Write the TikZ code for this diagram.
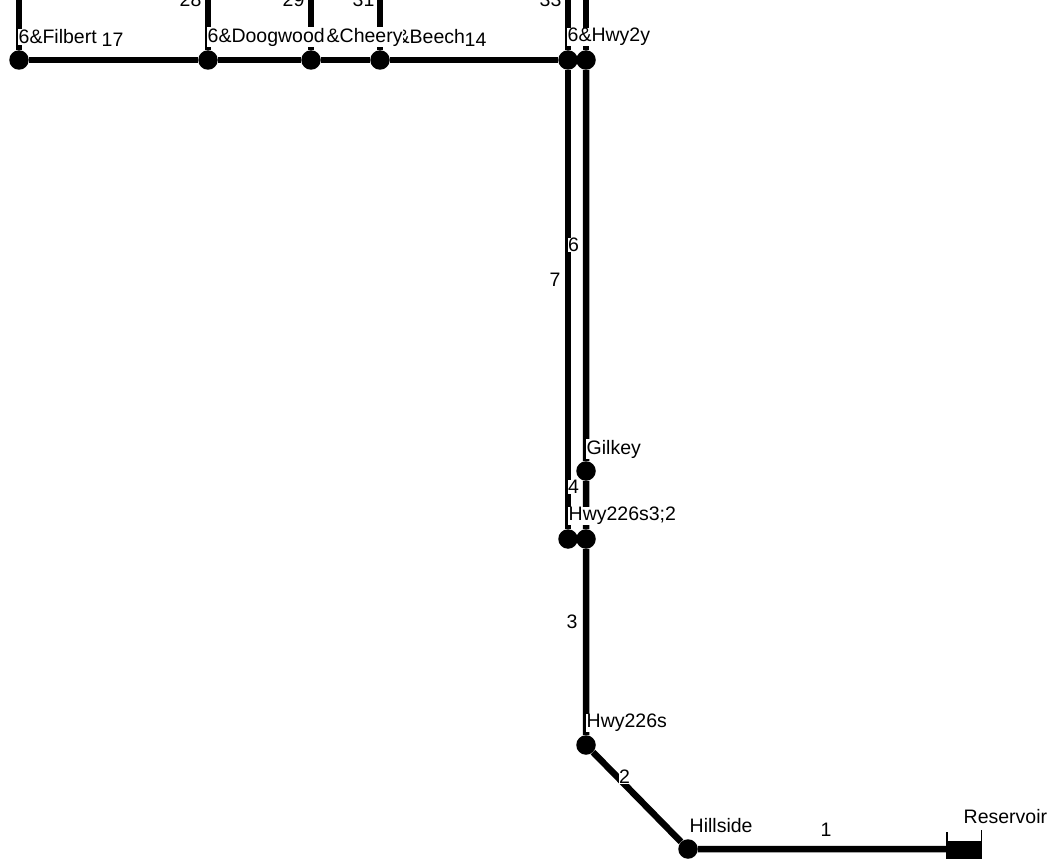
\documentclass[tikz,border=0pt]{standalone}
\usepackage{fontspec}
\setmainfont{Liberation Sans}
\tikzset{
  x=1pt,y=-1pt,
  junction/.style={circle,fill=black,draw=none,inner sep=0pt,minimum size=19.5pt},
  pipe/.style={line width=6.5pt,black},
  lbl/.style={font=\fontsize{19.5}{21}\selectfont,inner sep=0.5pt,anchor=west,text=black},
  hlbl/.style={lbl,fill=white},
}
\begin{document}
\begin{tikzpicture}
\useasboundingbox (0,0) rectangle (1061,864);
\clip (0,0) rectangle (1061,864);
\node[junction] (filbert) at (19,60) {};
\node[junction] (doogwood) at (208,60) {};
\node[junction] (cheery) at (311,60) {};
\node[junction] (beech) at (380,60) {};
\node[junction] (hwyA) at (568,60) {};
\node[junction] (hwyB) at (586,60) {};
\node[junction] (gilkey) at (586,471) {};
\node[junction] (sA) at (568,539) {};
\node[junction] (sB) at (586,539) {};
\node[junction] (hwys) at (586,745) {};
\node[junction] (hillside) at (688,849) {};
\coordinate (res) at (963,849);
\coordinate (tf) at (19,0);
\coordinate (td) at (208,0);
\coordinate (tc) at (311,0);
\coordinate (tb) at (380,0);
\coordinate (ta) at (568,0);
\coordinate (tB) at (586,0);
\draw[pipe] (filbert) -- (doogwood) -- (cheery) -- (beech) -- (hwyA);
\draw[pipe] (tf) -- (filbert);
\draw[pipe] (td) -- (doogwood);
\draw[pipe] (tc) -- (cheery);
\draw[pipe] (tb) -- (beech);
\draw[pipe] (ta) -- (hwyA);
\draw[pipe] (tB) -- (hwyB);
\draw[pipe] (hwyA) -- (sA);
\draw[pipe] (hwyB) -- (gilkey) -- (sB) -- (hwys) -- (hillside) -- (res);
\fill[black] (946,841) rectangle (982,859);
\draw[line width=1.2pt] (947,832) -- (947,845);
\draw[line width=1.2pt] (981.5,830) -- (981.5,845);
\node[hlbl] (l1) at (18,37) {6\&Filbert};
\node[hlbl] (l4) at (396,37) {\&Beech};
\node[hlbl] (l3) at (326,37) {\&Cheery};
\node[hlbl] (l2) at (207,37) {6\&Doogwood};
\node[hlbl] (l5) at (567,37) {6\&Hwy2y};
\node[lbl] (n17) at (101,40) {17};
\node[lbl] (n14) at (464,40) {14};
\node[lbl] (n28) at (179,0) {28};
\node[lbl] (n29) at (282,0) {29};
\node[lbl] (n31) at (352,0) {31};
\node[lbl] (n33) at (539,0) {33};
\node[lbl,fill=white,inner sep=0pt] (n6) at (568,245) {6};
\node[lbl] (n7) at (549,280) {7};
\node[lbl,fill=white,inner sep=0pt] (n4) at (568,487) {4};
\node[hlbl] (l6) at (586,449) {Gilkey};
\node[hlbl] (l7) at (568,516) {Hwy226s3;2};
\node[lbl] (n3) at (566,622) {3};
\node[hlbl] (l8) at (586,723) {Hwy226s};
\node[lbl,fill=white,inner sep=0pt] (n2) at (619,777) {2};
\node[lbl] (l9) at (689,826) {Hillside};
\node[lbl] (n1) at (820,830) {1};
\node[lbl] (l10) at (963,817) {Reservoir};
\end{tikzpicture}
\end{document}
